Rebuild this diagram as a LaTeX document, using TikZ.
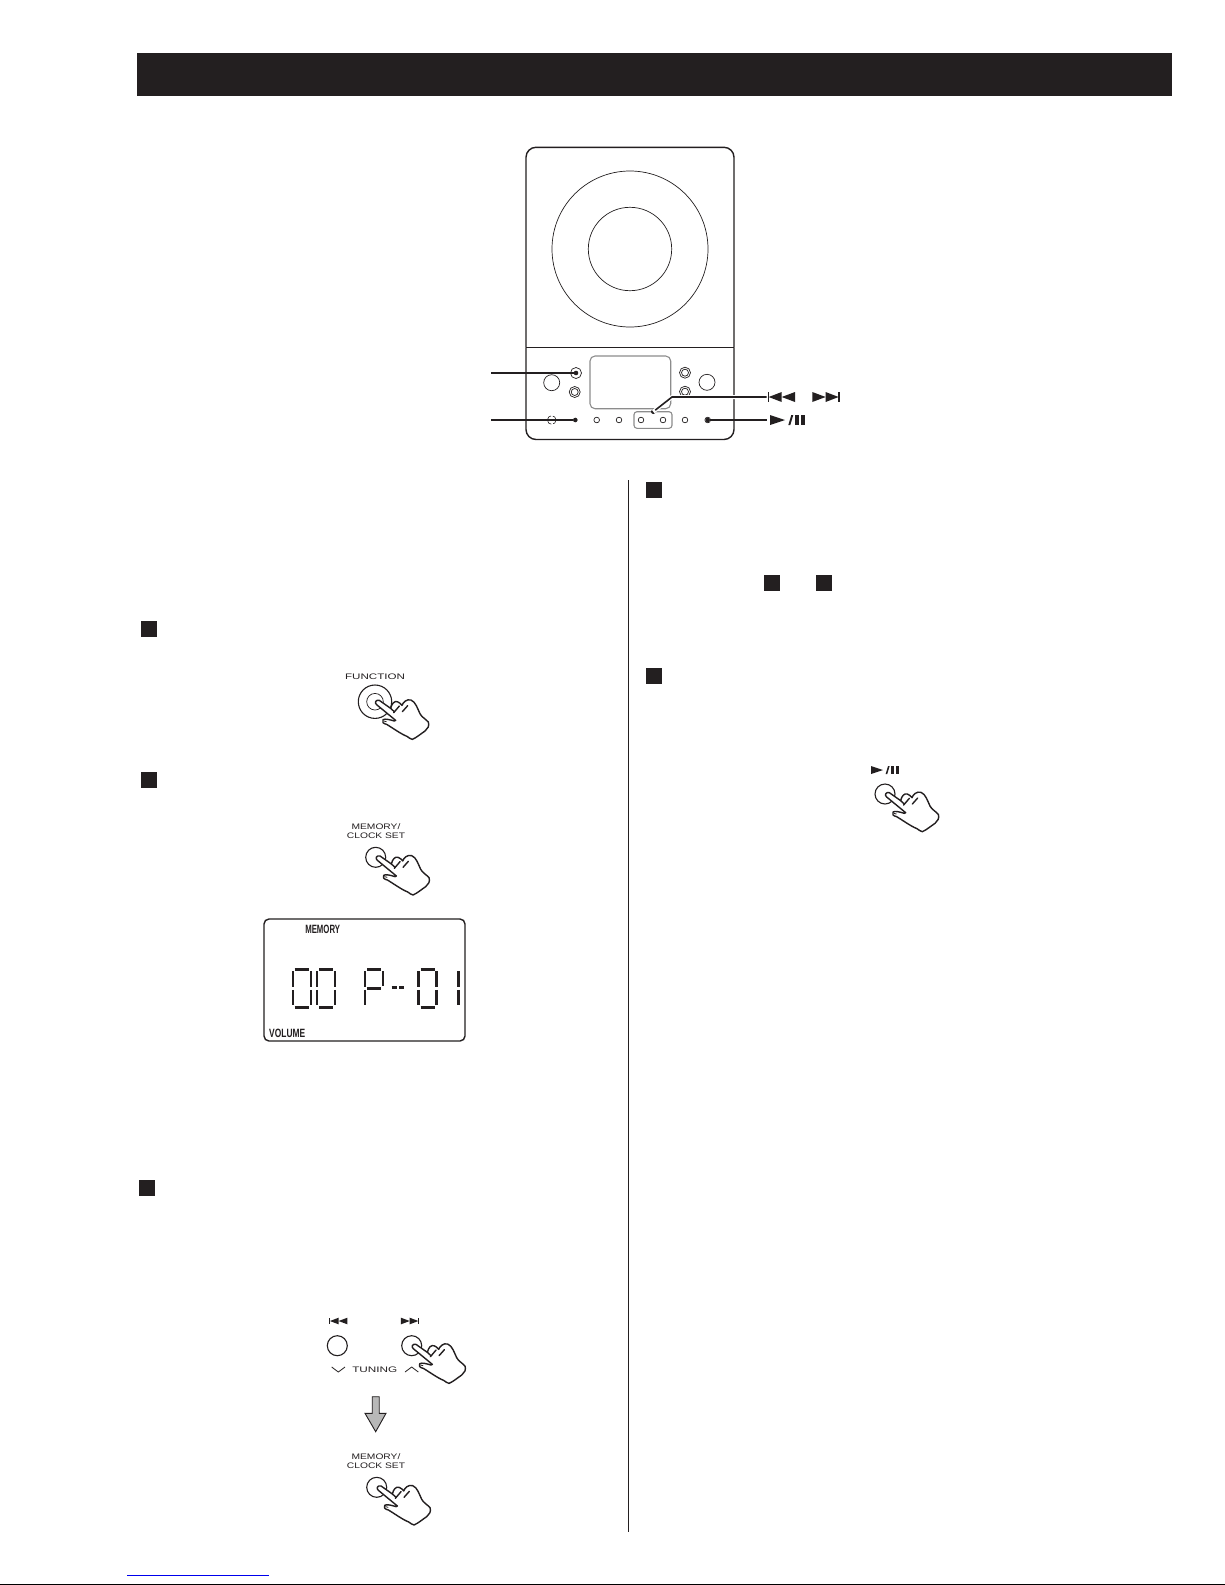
\documentclass[tikz,border=0pt]{standalone}
\usepackage{fontspec}
\setmainfont{Liberation Sans}
\definecolor{ink}{HTML}{231F20}
\definecolor{soft}{HTML}{8C8C8C}
\tikzset{
  x=1pt,y=-1pt,
  thin line/.style={draw=ink,line width=0.7pt},
  body line/.style={draw=ink,line width=1.4pt},
  gray line/.style={draw=soft,line width=1.1pt},
  leader/.style={draw=ink,line width=1.6pt},
  bullet/.style={circle,fill=ink,inner sep=0pt,minimum size=4.6pt},
  stepsq/.style={rectangle,fill=ink,inner sep=0pt,minimum size=16pt},
  ring/.style={circle,draw=ink,line width=0.7pt,inner sep=0pt,minimum size=#1},
  pushbtn/.style={circle,draw=ink,line width=1.1pt,inner sep=0pt,minimum size=20pt},
  caption/.style={font=\fontsize{8}{9}\selectfont,text=ink,inner sep=0pt,align=center},
  lcdlabel/.style={font=\fontsize{12}{12}\selectfont\bfseries,text=ink,inner sep=0pt},
  seg/.style={draw=ink,line width=2.4pt},
  prevtrack/.pic={
    \fill[ink] (-13.7,-5) rectangle (-12.2,5);
    \fill[ink] (-12.6,0) -- (0.4,-5) -- (0.4,5) -- cycle;
    \fill[ink] (0.4,0) -- (13.7,-5) -- (13.7,5) -- cycle;
  },
  playpause/.pic={
    \fill[ink] (-17.5,-5) -- (-2.5,0) -- (-17.5,5) -- cycle;
    \fill[ink] (0.8,5) -- (3.8,-5) -- (5.8,-5) -- (2.8,5) -- cycle;
    \fill[ink] (7.5,-5) rectangle (11.3,5);
    \fill[ink] (13.6,-5) rectangle (17.5,5);
  },
  hand/.pic={
    \begin{scope}[scale=1/3,line join=round,line cap=round]
      \filldraw[fill=white,draw=ink,line width=1.4pt]
        (5,9) .. controls (-3,3) and (3,-7) .. (13,-4)
        -- (47,20) .. controls (50,6) and (58,-3) .. (67,0)
        .. controls (73,2) and (77,6) .. (81,11)
        .. controls (84,2) and (95,-9) .. (108,-5)
        .. controls (122,0) and (128,22) .. (135,36)
        .. controls (140,46) and (152,52) .. (160,61)
        .. controls (164,72) and (158,82) .. (150,88)
        .. controls (138,96) and (124,108) .. (112,113)
        .. controls (106,114) and (102,106) .. (96,104)
        .. controls (78,97) and (55,80) .. (35,68)
        .. controls (25,66) and (19,60) .. (24,54)
        .. controls (30,50) and (45,54) .. (58,58)
        -- (62,56) -- cycle;
      \draw[ink,line width=1.4pt] (47,20) -- (58,30);
      \draw[ink,line width=1.4pt] (56,33) -- (73,13);
      \draw[ink,line width=1.4pt] (82,30) -- (98,12);
      \draw[ink,line width=0.8pt] (27,58) -- (34,60);
    \end{scope}
  },
}
\newcommand{\lcdzero}[1]{%
  \begin{scope}[shift={(#1,969.3)}]
    \draw[seg] (2,0) -- (16,0);
    \draw[seg] (2,38) -- (16,38);
    \draw[seg] (0,2) -- (0,18);
    \draw[seg] (0,20.5) -- (0,36);
    \draw[seg] (18,2) -- (18,18);
    \draw[seg] (18,20.5) -- (18,36);
  \end{scope}}
\begin{document}
\begin{tikzpicture}
\useasboundingbox (0,0) rectangle (1225,1585);
\fill[white] (0,0) rectangle (1225,1585);

% header band
\fill[ink] (137,53) rectangle (1172,96);

% device
\draw[body line,rounded corners=10pt] (526,347.3) -- (526,147.3) -- (734,147.3) -- (734,347.3);
\draw[body line,rounded corners=10pt] (526,347.3) -- (526,439.5) -- (734,439.5) -- (734,347.3);
\draw[body line] (526,347.3) -- (734,347.3);
\node[ring=156pt] (discouter) at (630,249) {};
\node[ring=83.4pt] (discinner) at (630,249) {};

% panel
\draw[gray line,rounded corners=5pt] (590,356) rectangle (670.7,408.7);
\node[ring=16pt] (knobL) at (551.7,382.7) {};
\node[ring=16pt] (knobR) at (707,382.3) {};
\node[ring=11pt] (ringA) at (576,373) {};
\node[ring=11pt] (ringB) at (574.7,392) {};
\node[ring=7pt] (ringBi) at (574.7,392) {};
\node[ring=11pt] (ringC) at (685,372.7) {};
\node[ring=7pt] (ringCi) at (685,372.7) {};
\node[ring=11pt] (ringD) at (685,391.7) {};
\node[ring=7pt] (ringDi) at (685,391.7) {};
\draw[ink,line width=0.6pt,dash pattern=on 5pt off 2pt] (551.7,420) circle [radius=4.3];
\foreach \nm/\xx in {k1/596.7,k2/619,k3/641,k4/663,k5/685,k6/707.7}
  \node[ring=5.6pt] (\nm) at (\xx,420) {};
\draw[gray line,rounded corners=3pt] (634,411.7) rectangle (672,428.3);

% leaders
\coordinate (la) at (491,373);
\coordinate (lb) at (491,420);
\coordinate (lcbend) at (672,397);
\coordinate (lcend) at (766.7,397);
\coordinate (ldend) at (766.7,420);
\node[bullet] (da) at (576,373) {};
\node[bullet] (db) at (575.3,420) {};
\node[bullet] (dc) at (653.3,411.7) {};
\node[bullet] (dd) at (707.7,420) {};
\draw[white,line width=4pt] (dc.center) -- (lcbend) -- (lcend);
\draw[leader] (la) -- (da);
\draw[leader] (lb) -- (db);
\draw[leader] (dc) -- (lcbend) -- (lcend);
\draw[leader] (dd) -- (ldend);
\pic at (781.3,397) {prevtrack};
\pic[xscale=-1] at (826,397) {prevtrack};
\pic at (787.5,420) {playpause};

% column rule
\coordinate (ruletop) at (628.7,480);
\coordinate (rulebot) at (628.7,1532);
\draw[ink,line width=1.2pt] (ruletop) -- (rulebot);

% step squares
\node[stepsq] (s1) at (149,629) {};
\node[stepsq] (s2) at (149,780) {};
\node[stepsq] (s3) at (147,1188) {};
\node[stepsq] (s4) at (654,490) {};
\node[stepsq] (s5) at (772,583) {};
\node[stepsq] (s6) at (824,583) {};
\node[stepsq] (s7) at (654,676) {};

% FUNCTION
\node[caption,xscale=1.45] (tfunc) at (375,677) {FUNCTION};
\node[ring=33.4pt,draw=ink,line width=1.1pt] (funcout) at (375,701.7) {};
\node[ring=16.6pt] (funcin) at (375,701.7) {};
\pic at (375,701.7) {hand};

% MEMORY 1
\node[caption,xscale=1.28] (tmem) at (376,831.5) {MEMORY/\\CLOCK SET};
\node[pushbtn] (bmem) at (375.7,857.3) {};
\pic at (375.7,857.3) {hand};

% LCD
\draw[body line,rounded corners=5pt] (264,919) rectangle (465,1041);
\node[lcdlabel,xscale=.65] (tlcdm) at (322.7,929) {MEMORY};
\node[lcdlabel,xscale=.7] (tlcdv) at (287.2,1033.3) {VOLUME};
\lcdzero{292.7}
\lcdzero{317}
\begin{scope}[shift={(365,969.3)}]
  \draw[seg] (2,0) -- (16,0);
  \draw[seg] (0,2) -- (0,18);
  \draw[seg] (0,20.5) -- (0,36);
  \draw[seg] (18,2) -- (18,17);
  \draw[seg] (2,19) -- (16,19);
\end{scope}
\draw[seg] (391.7,987.3) -- (396.7,987.3);
\draw[seg] (399,987.3) -- (404,987.3);
\lcdzero{418.5}
\begin{scope}[shift={(458.3,969.3)}]
  \draw[seg] (0,2) -- (0,18);
  \draw[seg] (0,20.5) -- (0,36);
\end{scope}

% TUNING
\pic[scale=.66] at (338.3,1321) {prevtrack};
\pic[xscale=-.66,yscale=.66] at (410,1321) {prevtrack};
\node[pushbtn] (bprev) at (337.3,1345.7) {};
\node[pushbtn] (bnext) at (411.7,1345.7) {};
\pic at (411.7,1345.7) {hand};
\draw[ink,line width=.8pt] (331.7,1367) -- (338.3,1372) -- (345,1367);
\node[caption,xscale=1.47] (ttune) at (374.8,1369.5) {TUNING};
\draw[ink,line width=.8pt] (405,1372) -- (411.7,1367) -- (418.3,1372);
\filldraw[fill=black!28,draw=ink,line width=.9pt] (372.2,1396.7) -- (379.2,1396.7) -- (379.2,1413.3) -- (386,1413.3) -- (375.7,1431.7) -- (365,1413.3) -- (372.2,1413.3) -- cycle;

% MEMORY 2
\node[caption,xscale=1.28] (tmemb) at (376,1461.5) {MEMORY/\\CLOCK SET};
\node[pushbtn] (bmemb) at (376.7,1487.3) {};
\pic at (376.7,1487.3) {hand};

% play/pause button
\pic[scale=.8] at (885,770) {playpause};
\node[pushbtn] (bplay) at (885,794) {};
\pic at (885,794) {hand};

% page foot
\coordinate (fa) at (127,1575);
\coordinate (fb) at (269,1575);
\draw[blue!93!black,line width=1pt] (fa) -- (fb);
\coordinate (fc) at (0,1584.2);
\coordinate (fd) at (1225,1584.2);
\draw[black,line width=1.4pt] (fc) -- (fd);
\end{tikzpicture}
\end{document}
